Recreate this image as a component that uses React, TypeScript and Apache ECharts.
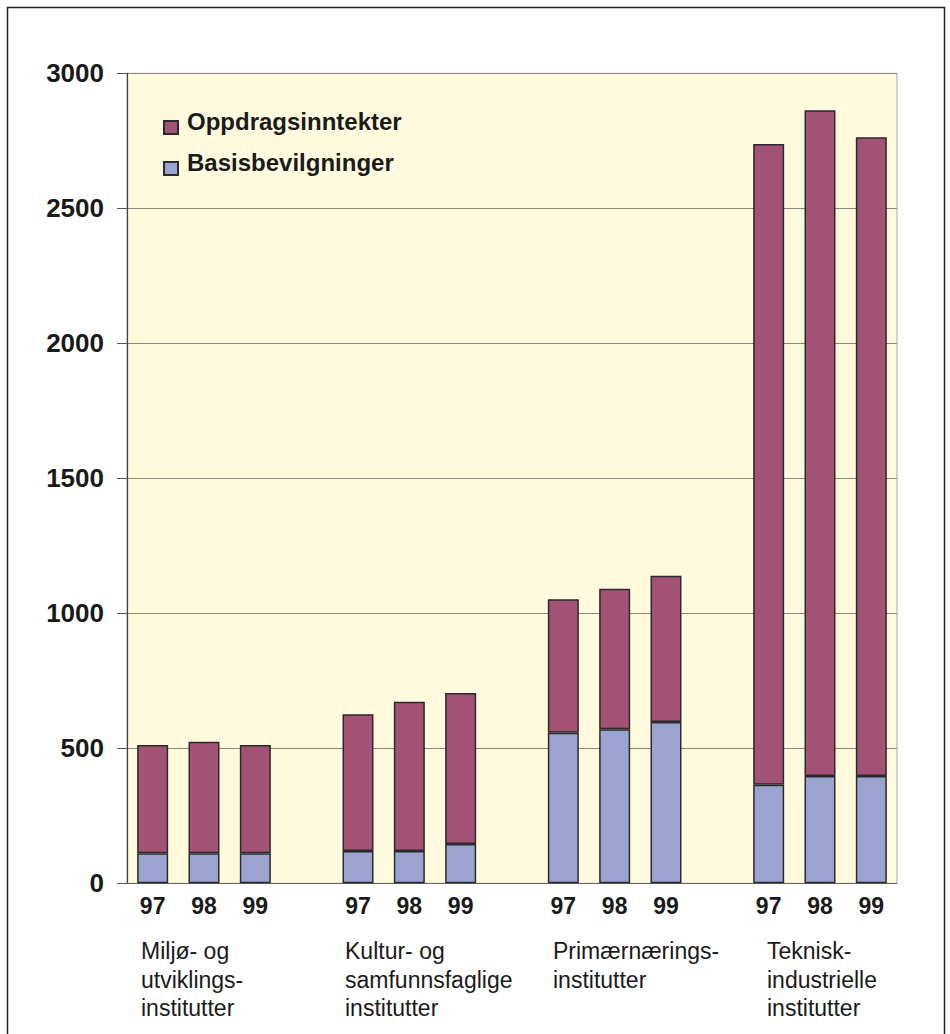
import React, { useEffect, useRef } from "react";
import * as echarts from "echarts";

const yearLabels = ["97", "98", "99", "", "97", "98", "99", "", "97", "98", "99", "", "97", "98", "99"];
const basisValues = [111, 111, 111, null, 120, 120, 146, null, 558, 571, 597, null, 365, 397, 397];
const oppdragValues = [401, 413, 401, null, 506, 552, 559, null, 494, 520, 542, null, 2373, 2466, 2366];
const groupLabels = [
  "Miljø- og\nutviklings-\ninstitutter",
  "Kultur- og\nsamfunnsfaglige\ninstitutter",
  "Primærnærings-\ninstitutter",
  "Teknisk-\nindustrielle\ninstitutter",
];
const groupLabelX = [141, 345, 553, 767];
const yTicks = [0, 500, 1000, 1500, 2000, 2500, 3000];

const FONT = "'Liberation Sans', Arial, Helvetica, sans-serif";
// square sitting in the lower half of a taller icon box
const LEGEND_ICON = "path://M0,0M0,13L14,13L14,26L0,26Z";

export default function App() {
  const ref = useRef<HTMLDivElement>(null);
  useEffect(() => {
    if (!ref.current) return;
    const chart = echarts.init(ref.current, undefined, { renderer: "svg" });
    chart.setOption({
      animation: false,
      backgroundColor: "#ffffff",
      grid: {
        left: 127,
        right: 53,
        top: 73.3,
        bottom: 150.7,
        show: true,
        backgroundColor: "#fffadd",
        borderColor: "#a8a8a8",
        borderWidth: 1,
      },
      legend: {
        orient: "vertical",
        left: 163,
        top: 107,
        padding: 0,
        itemWidth: 14,
        itemHeight: 26,
        itemGap: 13,
        icon: LEGEND_ICON,
        data: ["Oppdragsinntekter", "Basisbevilgninger"],
        formatter: "{a|{name}}",
        textStyle: {
          fontFamily: FONT,
          fontSize: 24,
          fontWeight: "bold",
          color: "#1a1a1a",
          rich: {
            a: {
              fontFamily: FONT,
              fontSize: 24,
              fontWeight: "bold",
              color: "#1a1a1a",
              padding: [0, 0, 0, 4],
            },
          },
        },
      },
      xAxis: {
        type: "category",
        data: yearLabels,
        axisLine: { show: true, lineStyle: { color: "#666", width: 1 } },
        axisTick: { show: false },
        axisLabel: {
          interval: 0,
          margin: 11,
          fontFamily: FONT,
          fontSize: 23,
          fontWeight: "bold",
          color: "#1a1a1a",
        },
        splitLine: { show: false },
      },
      yAxis: {
        type: "value",
        min: 0,
        max: 3000,
        interval: 500,
        axisLine: { show: true, lineStyle: { color: "#444", width: 1.2 } },
        axisTick: { show: true, length: 10, lineStyle: { color: "#555" } },
        axisLabel: {
          margin: 23,
          fontFamily: FONT,
          fontSize: 26,
          fontWeight: "bold",
          color: "#1a1a1a",
          formatter: (v: number) => (yTicks.includes(v) ? String(v) : ""),
        },
        splitLine: { show: true, lineStyle: { color: "#8a8a7a", width: 1 } },
      },
      series: [
        {
          name: "Basisbevilgninger",
          type: "bar",
          stack: "total",
          data: basisValues,
          barWidth: 31,
          itemStyle: { color: "#9ba4d1", borderColor: "#2a2a2a", borderWidth: 1.5 },
        },
        {
          name: "Oppdragsinntekter",
          type: "bar",
          stack: "total",
          data: oppdragValues,
          barWidth: 31,
          itemStyle: { color: "#a15275", borderColor: "#2a2a2a", borderWidth: 1.5 },
        },
      ],
      graphic: [
        {
          type: "rect",
          shape: { x: 7.5, y: 7.5, width: 937, height: 1060 },
          style: { fill: "none", stroke: "#222", lineWidth: 1.5 },
          silent: true,
        },
        ...groupLabels.map((t, i) => ({
          type: "text",
          x: groupLabelX[i],
          y: 937,
          style: {
            text: t,
            fontFamily: FONT,
            fontSize: 23,
            lineHeight: 28.5,
            fill: "#1a1a1a",
            textAlign: "left",
            textVerticalAlign: "top",
          },
          silent: true,
        })),
      ],
    });
    return () => chart.dispose();
  }, []);
  return (
    <div
      ref={ref}
      style={{ position: "fixed", left: 0, top: 0, width: 950, height: 1034 }}
    />
  );
}
